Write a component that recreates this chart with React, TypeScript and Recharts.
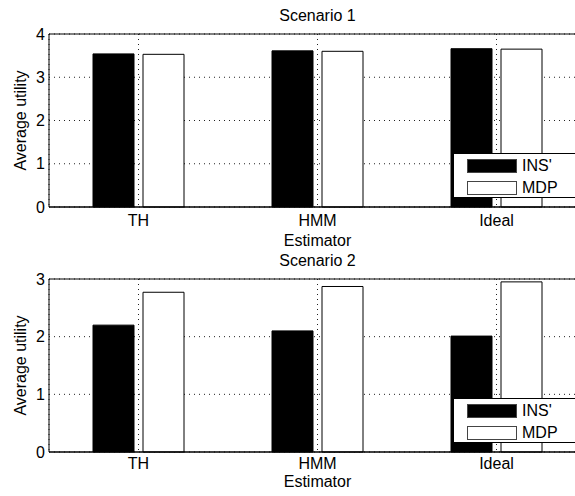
import React from 'react';
import { BarChart, Bar, XAxis, YAxis, CartesianGrid, ReferenceLine, Legend } from 'recharts';

const categories = ['TH', 'HMM', 'Ideal'];
const seriesNames = ["INS'", 'MDP'];
const seriesFills = ['#000000', '#ffffff'];

const scenario1INS = [3.54, 3.61, 3.66];
const scenario1MDP = [3.53, 3.6, 3.65];
const scenario2INS = [2.2, 2.1, 2.01];
const scenario2MDP = [2.77, 2.87, 2.95];

const scenario1Ticks = [0, 1, 2, 3, 4];
const scenario2Ticks = [0, 1, 2, 3];

const FONT = '"Liberation Sans", Arial, Helvetica, sans-serif';

const build = (a: number[], b: number[]) =>
  categories.map((c, i) => ({ name: c, s0: a[i], s1: b[i] }));

const renderLegend = (props: any) => {
  const payload = props.payload || [];
  return (
    <div
      style={{
        width: 200,
        height: 43,
        border: '1px solid #000',
        background: '#fff',
        position: 'relative',
        fontFamily: FONT,
        fontSize: 16,
        color: '#000',
      }}
    >
      {payload.map((p: any, i: number) => (
        <div key={i} style={{ position: 'absolute', left: 13, top: 4 + i * 22, height: 15, display: 'flex', alignItems: 'center' }}>
          <div
            style={{
              width: 50,
              height: 14,
              background: p.color,
              border: '1px solid #444',
              boxSizing: 'border-box',
            }}
          />
          <span style={{ marginLeft: 5, lineHeight: '15px' }}>{p.value}</span>
        </div>
      ))}
    </div>
  );
};

type PanelProps = {
  title: string;
  data: any[];
  ticks: number[];
  top: number;
  height: number;
  xAxisHeight: number;
  tickMarginX: number;
  labelBaseline: number;
};

const Panel = ({ title, data, ticks, top, height, xAxisHeight, tickMarginX, labelBaseline }: PanelProps) => {
  const maxY = ticks[ticks.length - 1];
  return (
    <div style={{ position: 'absolute', left: 0, top, width: 600, height }}>
      <BarChart
        width={600}
        height={height}
        data={data}
        margin={{ top: 34, right: 14, left: 0, bottom: 0 }}
        barGap={9}
        barSize={41}
      >
        <CartesianGrid stroke="#222" strokeDasharray="1 4" vertical horizontal />
        <XAxis
          dataKey="name"
          height={xAxisHeight}
          tickLine={false}
          tickSize={0}
          tickMargin={tickMarginX}
          axisLine={{ stroke: '#000', strokeWidth: 1.6 }}
          tick={{ fill: '#000', fontSize: 16, fontFamily: FONT }}
          label={{
            content: (p: any) => {
              const vb = p.viewBox || {};
              return (
                <text
                  x={vb.x + vb.width / 2}
                  y={vb.y + labelBaseline}
                  textAnchor="middle"
                  fill="#000"
                  fontSize={16}
                  fontFamily={FONT}
                >
                  Estimator
                </text>
              );
            },
          }}
        />
        <YAxis
          width={49}
          domain={[0, maxY]}
          ticks={ticks}
          interval={0}
          tickLine={false}
          tickSize={0}
          tickMargin={4}
          axisLine={{ stroke: '#000', strokeWidth: 1 }}
          tick={{ fill: '#000', fontSize: 16, fontFamily: FONT }}
          label={{
            content: (p: any) => {
              const vb = p.viewBox || {};
              const cx = 20;
              const cy = vb.y + vb.height / 2;
              return (
                <text
                  x={cx}
                  y={cy}
                  transform={`rotate(-90, ${cx}, ${cy})`}
                  textAnchor="middle"
                  dominantBaseline="central"
                  fill="#000"
                  fontSize={16}
                  fontFamily={FONT}
                >
                  Average utility
                </text>
              );
            },
          }}
        />
        <Bar dataKey="s0" name={seriesNames[0]} fill={seriesFills[0]} stroke="#000" strokeWidth={1} isAnimationActive={false} />
        <Bar dataKey="s1" name={seriesNames[1]} fill={seriesFills[1]} stroke="#000" strokeWidth={1} isAnimationActive={false} />
        <ReferenceLine
          y={maxY}
          stroke="#000"
          strokeWidth={1}
          label={{
            content: (p: any) => {
              const vb = p.viewBox || {};
              return (
                <text
                  x={vb.x + vb.width / 2}
                  y={vb.y - 13}
                  textAnchor="middle"
                  fill="#000"
                  fontSize={16}
                  fontFamily={FONT}
                >
                  {title}
                </text>
              );
            },
          }}
        />
        <Legend
          verticalAlign="middle"
          align="center"
          layout="horizontal"
          wrapperStyle={{ left: 453, top: 153, width: 200, height: 45, right: 'auto', bottom: 'auto' }}
          content={renderLegend}
        />
      </BarChart>
    </div>
  );
};

export default function App() {
  return (
    <div
      style={{
        position: 'absolute',
        left: 0,
        top: 0,
        width: 575,
        height: 496,
        overflow: 'hidden',
        background: '#fff',
      }}
    >
      <Panel
        title="Scenario 1"
        data={build(scenario1INS, scenario1MDP)}
        ticks={scenario1Ticks}
        top={0}
        height={248}
        xAxisHeight={41}
        tickMarginX={8}
        labelBaseline={39}
      />
      <Panel
        title="Scenario 2"
        data={build(scenario2INS, scenario2MDP)}
        ticks={scenario2Ticks}
        top={245}
        height={251}
        xAxisHeight={44}
        tickMarginX={6}
        labelBaseline={35}
      />
    </div>
  );
}
